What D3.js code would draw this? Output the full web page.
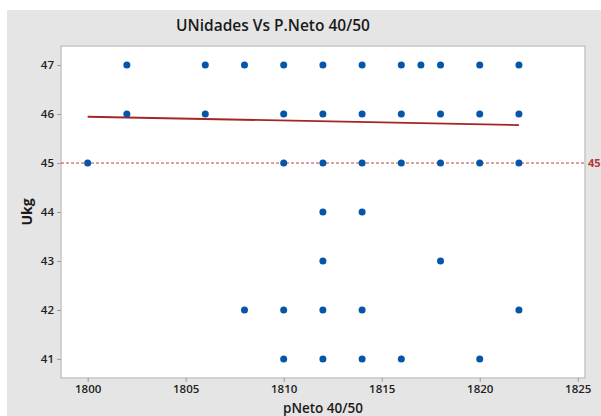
<!DOCTYPE html>
<html>
<head>
<meta charset="utf-8">
<script src="https://cdn.jsdelivr.net/npm/d3@7"></script>
<style>
  html, body { margin: 0; padding: 0; background: #ffffff; }
  svg { display: block; }
  text { font-family: "Open Sans", "Noto Sans", sans-serif; }
</style>
</head>
<body>
<svg id="chart" width="601" height="416"></svg>
<script>
// pNeto 40/50 values and their units per kg
const pNeto = [1800, 1802, 1802, 1806, 1806, 1808, 1808,
  1810, 1810, 1810, 1810, 1810,
  1812, 1812, 1812, 1812, 1812, 1812, 1812,
  1814, 1814, 1814, 1814, 1814, 1814,
  1816, 1816, 1816, 1816, 1817,
  1818, 1818, 1818, 1818,
  1820, 1820, 1820, 1820,
  1822, 1822, 1822, 1822];
const ukg = [45, 47, 46, 47, 46, 47, 42,
  47, 46, 45, 42, 41,
  47, 46, 45, 44, 43, 42, 41,
  47, 46, 45, 44, 42, 41,
  47, 46, 45, 41, 47,
  47, 46, 45, 43,
  47, 46, 45, 41,
  47, 46, 45, 42];

// fitted line endpoints
const fitX = [1800, 1822];
const fitY = [45.945, 45.776];

// reference level
const refValue = 45;

const xTicks = [1800, 1805, 1810, 1815, 1820, 1825];
const yTicks = [41, 42, 43, 44, 45, 46, 47];

const svg = d3.select("#chart");

// grey panel
svg.append("rect").attr("x", 7).attr("y", 10).attr("width", 594).attr("height", 406)
  .attr("fill", "#e5e5e5");

const plot = { left: 61, right: 585, top: 46, bottom: 378 };

const x = d3.scaleLinear().domain([1798.64, 1825.37]).range([plot.left, plot.right]);
const y = d3.scaleLinear().domain([40.61, 47.39]).range([plot.bottom, plot.top]);

// plot area
svg.append("rect")
  .attr("x", plot.left).attr("y", plot.top)
  .attr("width", plot.right - plot.left).attr("height", plot.bottom - plot.top)
  .attr("fill", "#ffffff").attr("stroke", "#c6c6c6").attr("stroke-width", 1.5);

// axes
const xAxis = svg.append("g").attr("transform", `translate(0,${plot.bottom})`)
  .call(d3.axisBottom(x).tickValues(xTicks).tickFormat(d3.format("d")).tickSize(4).tickSizeOuter(0));
const yAxis = svg.append("g").attr("transform", `translate(${plot.left},0)`)
  .call(d3.axisLeft(y).tickValues(yTicks).tickFormat(d3.format("d")).tickSize(4).tickSizeOuter(0));

[xAxis, yAxis].forEach(g => {
  g.select(".domain").remove();
  g.selectAll(".tick line").attr("stroke", "#9a9a9a");
  g.selectAll(".tick text").attr("fill", "#222").attr("font-size", 11.5)
    .attr("font-weight", 600).style("font-family", '"Open Sans", sans-serif');
});
xAxis.selectAll(".tick text").attr("dy", "0.71em").attr("y", 7);
yAxis.selectAll(".tick text").attr("x", -7);

// reference line at 45
svg.append("line")
  .attr("x1", plot.left).attr("x2", plot.right)
  .attr("y1", y(refValue)).attr("y2", y(refValue))
  .attr("stroke", "#c8413a").attr("stroke-width", 1).attr("stroke-dasharray", "3,2");
svg.append("text")
  .attr("x", plot.right + 3).attr("y", y(refValue)).attr("dy", "0.35em")
  .attr("fill", "#b0392e").attr("font-size", 11).attr("font-weight", 700)
  .text(refValue);

// fitted line
const line = d3.line().x(d => x(d[0])).y(d => y(d[1]));
svg.append("path")
  .datum(fitX.map((v, i) => [v, fitY[i]]))
  .attr("d", line)
  .attr("fill", "none").attr("stroke", "#a32626").attr("stroke-width", 1.8);

// points
svg.append("g").selectAll("circle")
  .data(pNeto.map((v, i) => [v, ukg[i]]))
  .join("circle")
  .attr("cx", d => x(d[0])).attr("cy", d => y(d[1]))
  .attr("r", 3.5).attr("fill", "#0555a8");

// titles
svg.append("text")
  .attr("x", 273).attr("y", 31).attr("text-anchor", "middle")
  .attr("font-size", 15.5).attr("font-weight", 600).attr("fill", "#1a1a1a")
  .text("UNidades Vs P.Neto 40/50");

svg.append("text")
  .attr("x", 323).attr("y", 413).attr("text-anchor", "middle")
  .attr("font-size", 13.5).attr("font-weight", 600).attr("fill", "#1a1a1a")
  .text("pNeto 40/50");

svg.append("text")
  .attr("transform", `translate(32,212) rotate(-90)`)
  .attr("text-anchor", "middle")
  .attr("font-size", 14).attr("font-weight", 700).attr("fill", "#1a1a1a")
  .text("Ukg");
</script>
</body>
</html>
